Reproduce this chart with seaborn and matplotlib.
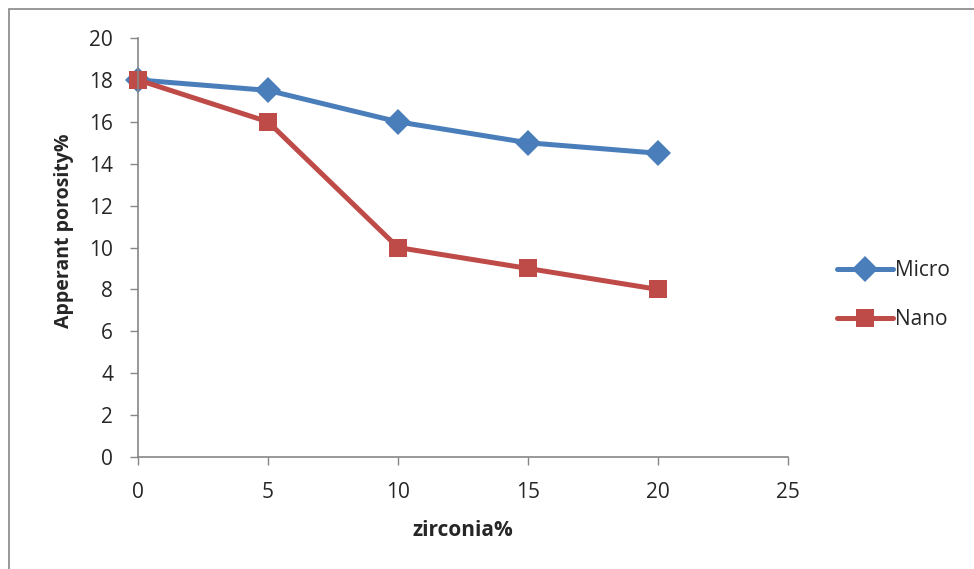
import matplotlib.pyplot as plt
import matplotlib.patches as mpatches
import pandas as pd
import seaborn as sns

zirconia = [0, 5, 10, 15, 20]
micro = [18, 17.5, 16, 15, 14.5]
nano = [18, 16, 10, 9, 8]

df = pd.DataFrame({
    'zirconia': zirconia * 2,
    'porosity': micro + nano,
    'type': ['Micro'] * len(micro) + ['Nano'] * len(nano),
})

sns.set_style('white')
plt.rcParams['font.family'] = ['Open Sans', 'DejaVu Sans']

fig = plt.figure(figsize=(9.74, 5.69), dpi=100)
ax = fig.add_axes([0.1417, 0.1968, 0.6674, 0.7364])

sns.lineplot(data=df, x='zirconia', y='porosity', hue='type', style='type',
             markers={'Micro': 'D', 'Nano': 's'}, dashes=False,
             palette={'Micro': '#4A7EBB', 'Nano': '#BE4B48'},
             linewidth=3.6, markersize=13, markeredgewidth=0, ax=ax)
for line in ax.lines:
    line.set_clip_on(False)

ax.set_xlim(0, 25)
ax.set_ylim(0, 20)
ax.set_xticks(range(0, 26, 5))
ax.set_yticks(range(0, 21, 2))
ax.tick_params(axis='both', labelsize=15, length=6, width=1, color='#868686',
               direction='out', bottom=True, left=True)
ax.tick_params(axis='y', pad=12)
ax.tick_params(axis='x', pad=12)
for side in ['top', 'right']:
    ax.spines[side].set_visible(False)
for side in ['left', 'bottom']:
    ax.spines[side].set_color('#868686')
    ax.spines[side].set_linewidth(1.2)

ax.set_xlabel('zirconia%', fontsize=15, fontweight='bold')
ax.xaxis.set_label_coords(0.5, (457 - 530) / 419, transform=ax.transAxes)
ax.set_ylabel('Apperant porosity%', fontsize=14, fontweight='bold')
ax.yaxis.set_label_coords((64 - 138) / 650, (457 - 231) / 419, transform=ax.transAxes)
ax.xaxis.label.set_va('center')
ax.yaxis.label.set_va('center')

leg = ax.legend(loc='center left', bbox_to_anchor=(1.047, 0.387), frameon=False,
                fontsize=15, handlelength=2.65, labelspacing=1.35, handletextpad=0.1)

fig.patches.append(mpatches.Rectangle((9 / 974, -0.01), 1.0, 1 - 9 / 569 + 0.01,
                                      transform=fig.transFigure, fill=False,
                                      edgecolor='#868686', linewidth=1.2))

fig.savefig('out.png', dpi=100)
